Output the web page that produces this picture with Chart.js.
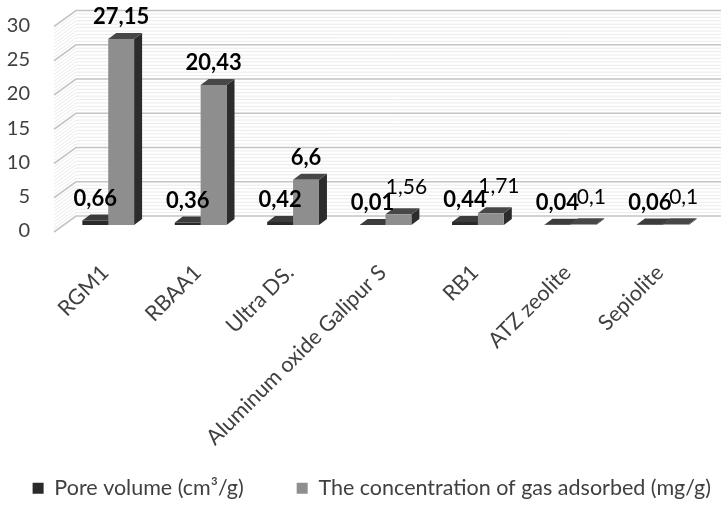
<!DOCTYPE html>
<html>
<head>
<meta charset="utf-8">
<script src="https://cdn.jsdelivr.net/npm/chart.js@4"></script>
<style>
  html, body { margin: 0; padding: 0; background: #fff; }
</style>
</head>
<body>
<canvas id="chart" width="721" height="509"></canvas>
<script>
const categories = ['RGM1', 'RBAA1', 'Ultra DS.', 'Aluminum oxide Galipur S', 'RB1', 'ATZ zeolite', 'Sepiolite'];
const poreVolume = [0.66, 0.36, 0.42, 0.01, 0.44, 0.04, 0.06];
const gasAdsorbed = [27.15, 20.43, 6.6, 1.56, 1.71, 0.1, 0.1];
const yTicks = [0, 5, 10, 15, 20, 25, 30];

// 3d look: depth offset of bar tops/sides and of the back wall
const DEPTH_X = 8, DEPTH_Y = -6;
const faceColors = [
  { top: '#3c3c3c', side: '#1c1c1c' },
  { top: '#474747', side: '#2c2c2c' }
];

const wallPlugin = {
  id: 'wall3d',
  beforeDatasetsDraw(chart) {
    const ctx = chart.ctx;
    const y = chart.scales.y;
    const area = chart.chartArea;
    const fx = area.left - 8, bx = fx + 22;
    ctx.save();
    // minor then major lines on side wall and back wall
    for (let pass = 0; pass < 2; pass++) {
      for (let v = 0; v <= 30.001; v += 0.5) {
        const major = Math.abs(v % 5) < 0.01;
        if ((pass === 0) === major) continue;
        const p = y.getPixelForValue(v);
        ctx.strokeStyle = major ? '#c4c4c4' : '#ebebeb';
        ctx.lineWidth = major ? 1.6 : 1;
        ctx.beginPath();
        ctx.moveTo(fx, p + 7);
        ctx.lineTo(bx, p - 9);
        ctx.lineTo(chart.width, p - 9);
        ctx.stroke();
      }
    }
    // bar tops and sides (front faces are drawn by chart.js afterwards)
    chart.data.datasets.forEach((ds, di) => {
      const meta = chart.getDatasetMeta(di);
      meta.data.forEach(bar => {
        const l = bar.x - bar.width / 2, r = bar.x + bar.width / 2;
        const t = bar.y, b = bar.base;
        ctx.fillStyle = faceColors[di].side;
        ctx.beginPath();
        ctx.moveTo(r, t); ctx.lineTo(r + DEPTH_X, t + DEPTH_Y);
        ctx.lineTo(r + DEPTH_X, b + DEPTH_Y); ctx.lineTo(r, b);
        ctx.closePath(); ctx.fill();
        ctx.fillStyle = faceColors[di].top;
        ctx.beginPath();
        ctx.moveTo(l, t); ctx.lineTo(r, t);
        ctx.lineTo(r + DEPTH_X, t + DEPTH_Y); ctx.lineTo(l + DEPTH_X, t + DEPTH_Y);
        ctx.closePath(); ctx.fill();
      });
    });
    ctx.restore();
  },
  afterDatasetsDraw(chart) {
    // value labels with decimal comma
    const ctx = chart.ctx;
    ctx.save();
    ctx.textAlign = 'center';
    ctx.textBaseline = 'middle';
    ctx.fillStyle = '#000';
    chart.data.datasets.forEach((ds, di) => {
      chart.getDatasetMeta(di).data.forEach((bar, i) => {
        const v = ds.data[i];
        const small = di === 1 && v < 5;
        ctx.font = small ? '21px Lato' : 'bold 22px Lato';
        const txt = String(v).replace('.', ',');
        ctx.fillText(txt, bar.x + (small ? 8 : 0), bar.y - (small ? 27 : 22));
      });
    });
    ctx.restore();
  }
};

new Chart(document.getElementById('chart'), {
  type: 'bar',
  data: {
    labels: categories,
    datasets: [
      { label: 'Pore volume (cm³/g)', data: poreVolume, backgroundColor: '#2a2a2a' },
      { label: 'The concentration of gas adsorbed (mg/g)', data: gasAdsorbed, backgroundColor: '#8e8e8e' }
    ]
  },
  options: {
    responsive: false,
    animation: false,
    devicePixelRatio: 1,
    categoryPercentage: 0.56,
    barPercentage: 1,
    layout: { padding: { left: 6, right: 0, top: 19.5, bottom: 0 } },
    scales: {
      x: {
        grid: { display: false, drawTicks: false },
        border: { display: false },
        afterFit(scale) {
          scale.paddingLeft = 0;
          scale.paddingRight = 12;
          scale.height = 242.5;
        },
        ticks: {
          color: '#404040',
          font: { family: 'Lato', size: 21.5 },
          minRotation: 45, maxRotation: 45,
          autoSkip: false,
          padding: 35,
          labelOffset: -3
        }
      },
      y: {
        min: 0, max: 30,
        afterBuildTicks(scale) { scale.ticks = yTicks.map(v => ({ value: v })); },
        afterFit(scale) {
          scale.paddingTop = 0;
          scale.paddingBottom = 0;
          scale.width = 56;
        },
        grid: { display: false, drawTicks: false },
        border: { display: false },
        ticks: {
          color: '#404040',
          font: { family: 'Lato', size: 20 },
          autoSkip: false,
          padding: 32,
          labelOffset: 6
        }
      }
    },
    plugins: {
      tooltip: { enabled: false },
      legend: {
        position: 'bottom',
        align: 'end',
        labels: {
          color: '#404040',
          font: { family: 'Lato', size: 21.5 },
          boxWidth: 11, boxHeight: 11,
          padding: 10,
          generateLabels(chart) {
            const items = Chart.defaults.plugins.legend.labels.generateLabels(chart);
            items[0].text += '\u2003\u2003\u2002';
            return items;
          }
        }
      }
    }
  },
  plugins: [wallPlugin]
});
</script>
</body>
</html>
